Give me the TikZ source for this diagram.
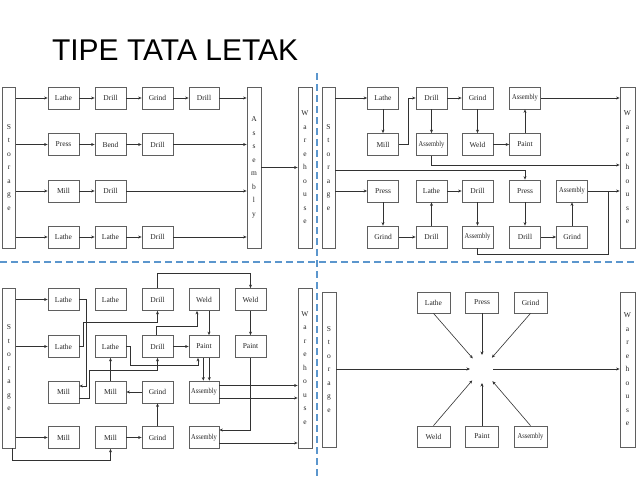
\documentclass[tikz,border=0pt]{standalone}
\usepackage{fontspec}
\setmainfont{Liberation Serif}
\newfontfamily\titlef{Liberation Sans}
\usetikzlibrary{arrows.meta}
\definecolor{dashblue}{RGB}{91,150,205}
\definecolor{boxgray}{RGB}{95,95,95}
\definecolor{lgray}{RGB}{50,50,50}
\newcommand{\asmtxt}{\scalebox{0.86}[1]{Assembly}}
\begin{document}
\begin{tikzpicture}[x=1pt,y=-1pt,
  box/.style={draw=boxgray, fill=white, line width=0.75pt, minimum width=31pt, minimum height=22pt, inner sep=0pt, font=\fontsize{7.5}{8}\selectfont, text=black!85},
  wbox/.style={box, minimum width=33pt, minimum height=21pt},
  tall/.style={draw=boxgray, fill=white, line width=0.75pt, minimum width=13pt, inner sep=0pt, align=center, font=\fontsize{7.5}{13.5}\selectfont, text=black!85},
  arr/.style={draw=lgray, line width=0.6pt, -{Stealth[length=3.5pt,width=3pt]}},
  ln/.style={draw=lgray, line width=0.6pt},
  divider/.style={draw=dashblue, line width=1.2pt, dash pattern=on 7pt off 4pt}]
\useasboundingbox (0,0) rectangle (638,479);

\node[anchor=base west, font=\titlef\fontsize{30}{31}\selectfont, text=black] (title) at (48.5,60) {TIPE TATA LETAK};

\draw[divider] (317,73) -- (317,479);
\draw[divider] (0,262) -- (638,262);

% ---------------- top left ----------------
\node[tall, minimum height=161pt] (s1) at (9,167.5) {S\\t\\o\\r\\a\\g\\e};
\node[tall, minimum height=161pt, minimum width=14pt] (a1) at (254,167.5) {A\\s\\s\\e\\m\\b\\l\\y};
\node[tall, minimum height=161pt, minimum width=14pt] (w1) at (305,167.5) {W\\a\\r\\e\\h\\o\\u\\s\\e};
\node[box] (t11) at (63.5,98) {Lathe};
\node[box] (t12) at (110.5,98) {Drill};
\node[box] (t13) at (157.5,98) {Grind};
\node[box, minimum width=30pt] (t14) at (204,98) {Drill};
\node[box] (t21) at (63.5,144.5) {Press};
\node[box] (t22) at (110.5,144.5) {Bend};
\node[box] (t23) at (157.5,144.5) {Drill};
\node[box] (t31) at (63.5,191) {Mill};
\node[box] (t32) at (110.5,191) {Drill};
\node[box] (t41) at (63.5,237) {Lathe};
\node[box] (t42) at (110.5,237) {Lathe};
\node[box] (t43) at (157.5,237) {Drill};
\draw[arr] (s1.east |- t11) -- (t11);
\draw[arr] (t11) -- (t12);
\draw[arr] (t12) -- (t13);
\draw[arr] (t13) -- (t14);
\draw[arr] (t14) -- (a1.west |- t14);
\draw[arr] (s1.east |- t21) -- (t21);
\draw[arr] (t21) -- (t22);
\draw[arr] (t22) -- (t23);
\draw[arr] (t23) -- (a1.west |- t23);
\draw[arr] (s1.east |- t31) -- (t31);
\draw[arr] (t31) -- (t32);
\draw[arr] (t32) -- (a1.west |- t32);
\draw[arr] (s1.east |- t41) -- (t41);
\draw[arr] (t41) -- (t42);
\draw[arr] (t42) -- (t43);
\draw[arr] (t43) -- (a1.west |- t43);
\draw[arr] (a1) -- (w1);

% ---------------- top right ----------------
\node[tall, minimum height=161pt] (s2) at (328.5,167.5) {S\\t\\o\\r\\a\\g\\e};
\node[tall, minimum height=161pt, minimum width=15pt] (w2) at (627.5,167.5) {W\\a\\r\\e\\h\\o\\u\\s\\e};
\node[box] (r11) at (383,98) {Lathe};
\node[box] (r12) at (431.5,98) {Drill};
\node[box] (r13) at (477.5,98) {Grind};
\node[box] (r14) at (525,98) {\asmtxt};
\node[box] (r21) at (383,144.5) {Mill};
\node[box] (r22) at (431.5,144.5) {\asmtxt};
\node[box] (r23) at (477.5,144.5) {Weld};
\node[box] (r24) at (525,144.5) {Paint};
\node[box] (r31) at (383,191) {Press};
\node[box] (r32) at (431.5,191) {Lathe};
\node[box] (r33) at (477.5,191) {Drill};
\node[box] (r34) at (525,191) {Press};
\node[box] (r35) at (572,191) {\asmtxt};
\node[box] (r41) at (383,237) {Grind};
\node[box] (r42) at (431.5,237) {Drill};
\node[box] (r43) at (477.5,237) {\asmtxt};
\node[box] (r44) at (525,237) {Drill};
\node[box] (r45) at (572,237) {Grind};
\coordinate (c1) at ([yshift=2.5pt]w2.west);
\coordinate (c2) at ([yshift=-2.5pt]s2.east);
\coordinate (j1) at (608,191);
\draw[arr] (s2.east |- r11) -- (r11);
\draw[arr] (r11) -- (r21);
\draw[arr] (r21.east) -- ++(9,0) |- (r12);
\draw[arr] (r12) -- (r13);
\draw[arr] (r12) -- (r22);
\draw[arr] (r13) -- (r23);
\draw[arr] (r23) -- (r24);
\draw[arr] (r24) -- (r14);
\draw[arr] (r14) -- (w2.west |- r14);
\draw[arr] (r22.south) |- (c1);
\draw[arr] (c2) -| (r34.north);
\draw[arr] (s2.east |- r31) -- (r31);
\draw[arr] (r31) -- (r41);
\draw[arr] (r41) -- (r42);
\draw[arr] (r42) -- (r32);
\draw[arr] (r32) -- (r33);
\draw[arr] (r33) -- (r43);
\draw[arr] (r34) -- (r44);
\draw[arr] (r44) -- (r45);
\draw[arr] (r45) -- (r35);
\draw[arr] (r35) -- (w2.west |- r35);
\draw[ln] (r43.south) -- ++(0,6) -| (j1);

% ---------------- bottom left ----------------
\node[tall, minimum height=160pt] (s3) at (9,368) {S\\t\\o\\r\\a\\g\\e};
\node[tall, minimum height=160pt, minimum width=14pt] (w3) at (305,368) {W\\a\\r\\e\\h\\o\\u\\s\\e};
\node[box] (b11) at (63.5,299.5) {Lathe};
\node[box] (b12) at (110.5,299.5) {Lathe};
\node[box] (b13) at (157.5,299.5) {Drill};
\node[box, minimum width=30pt] (b14) at (204,299.5) {Weld};
\node[box] (b15) at (250.5,299.5) {Weld};
\node[box] (b21) at (63.5,346.5) {Lathe};
\node[box] (b22) at (110.5,346.5) {Lathe};
\node[box] (b23) at (157.5,346.5) {Drill};
\node[box, minimum width=30pt] (b24) at (204,346.5) {Paint};
\node[box] (b25) at (250.5,346.5) {Paint};
\node[box] (b31) at (63.5,392) {Mill};
\node[box] (b32) at (110.5,392) {Mill};
\node[box] (b33) at (157.5,392) {Grind};
\node[box, minimum width=30pt] (b34) at (204,392) {\asmtxt};
\node[box] (b41) at (63.5,437.5) {Mill};
\node[box] (b42) at (110.5,437.5) {Mill};
\node[box] (b43) at (157.5,437.5) {Grind};
\node[box, minimum width=30pt] (b44) at (204,437.5) {\asmtxt};
\coordinate (k1) at ([yshift=6pt]b31.east);
\coordinate (k2) at ([yshift=-6pt]b31.east);
\coordinate (k3) at ([yshift=7.5pt]b44.east);
\coordinate (k4) at ([yshift=6.5pt]b34.east);
\coordinate (k5) at ([yshift=-6pt]b34.east);
\coordinate (k6) at ([yshift=-5.5pt]b44.east);
\draw[arr] (s3.east |- b11) -- (b11);
\draw[arr] (s3.east |- b21) -- (b21);
\draw[arr] (s3.east |- b41) -- (b41);
\draw[arr] ([xshift=3pt]s3.south) -- ++(0,12) -| (b42.south);
\draw[arr] (b42) -- (b43);
\draw[arr] (b43) -- (b33);
\draw[arr] (b33) -- (b32);
\draw[arr] (b32) -- (b22);
\draw[arr] (b11.east) -- ++(7,0) |- (k1);
\draw[arr] (b21.east) -- ++(4,0) -- ++(0,-24.5) -| (b13.south);
\draw[arr] (k2) -- ++(10,0) -- ++(0,-28) -| (b23.south);
\draw[arr] (b22.east) -- ++(4,0) -- ++(0,18.5) -| ([xshift=-6pt]b24.south);
\draw[arr] (b23) -- (b24);
\draw[arr] ([xshift=-1.5pt]b23.north) -- ++(0,-9) -| ([xshift=-7pt]b14.south);
\draw[arr] ([xshift=5pt]b14.south) -- ([xshift=5pt]b24.north);
\draw[arr] (b13.north) -- ++(0,-15) -| (b15.north);
\draw[arr] (b15) -- (b25);
\draw[arr] (b25.south) |- (k3);
\draw[arr] ([xshift=-0.7pt]b24.south) -- ([xshift=-0.7pt]b34.north);
\draw[arr] ([xshift=5.3pt]b24.south) -- ([xshift=5.3pt]b34.north);
\draw[arr] (k4) -- (k4 -| w3.west);
\draw[arr] (k5) -- (k5 -| w3.west);
\draw[arr] (k6) -- (k6 -| w3.west);

% ---------------- bottom right ----------------
\node[tall, minimum height=155pt, minimum width=14pt] (s4) at (329,369.5) {S\\t\\o\\r\\a\\g\\e};
\node[tall, minimum height=155pt, minimum width=15pt] (w4) at (627.5,369.5) {W\\a\\r\\e\\h\\o\\u\\s\\e};
\node[wbox] (q1) at (433.5,302.5) {Lathe};
\node[wbox] (q2) at (482,302.5) {Press};
\node[wbox] (q3) at (530.5,302.5) {Grind};
\node[wbox] (q4) at (433.5,436.5) {Weld};
\node[wbox] (q5) at (482,436.5) {Paint};
\node[wbox] (q6) at (530.5,436.5) {\asmtxt};
\coordinate (hub) at (482,369);
\draw[arr, shorten >=14pt] (q1.south) -- (hub);
\draw[arr, shorten >=14pt] (q2.south) -- (hub);
\draw[arr, shorten >=15pt] (q3.south) -- (hub);
\draw[arr, shorten >=15pt] (q4.north) -- (hub);
\draw[arr, shorten >=14pt] (q5.north) -- (hub);
\draw[arr, shorten >=16pt] (q6.north) -- (hub);
\draw[arr, shorten >=12pt] (s4.east |- hub) -- (hub);
\draw[arr, shorten <=11pt] (hub) -- (hub -| w4.west);
\end{tikzpicture}
\end{document}
